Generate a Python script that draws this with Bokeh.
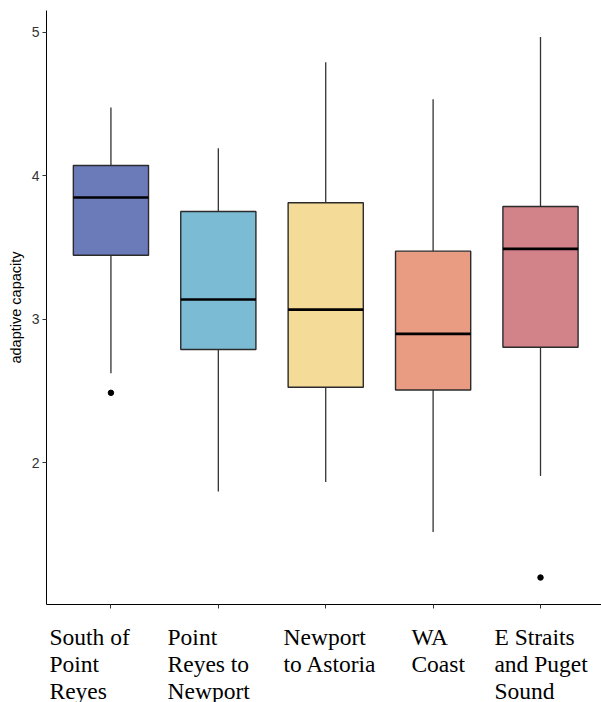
from bokeh.plotting import figure
from bokeh.layouts import column
from bokeh.models import Range1d, FixedTicker, ColumnDataSource
from bokeh.core.properties import value
from bokeh.embed import file_html
from bokeh.resources import INLINE

# Adaptive capacity by region: box-plot summary statistics
region_lines = [
    ["South of", "Point", "Reyes"],
    ["Point", "Reyes to", "Newport"],
    ["Newport", "to Astoria"],
    ["WA", "Coast"],
    ["E Straits", "and Puget", "Sound"],
]
positions = [1, 2, 3, 4, 5]
whisker_low = [2.624, 1.800, 1.866, 1.518, 1.908]
q1 = [3.446, 2.789, 2.526, 2.507, 2.805]
median = [3.848, 3.137, 3.067, 2.898, 3.490]
q3 = [4.071, 3.750, 3.811, 3.474, 3.785]
whisker_high = [4.475, 4.192, 4.791, 4.533, 4.967]
outlier_group = [1, 5]
outlier_value = [2.487, 1.200]
fill_colors = ["#6B7BBA", "#7BBBD4", "#F4DB98", "#E99C82", "#D2838A"]
y_ticks = [2, 3, 4, 5]

half = 0.35
src = ColumnDataSource(dict(
    x=positions,
    left=[p - half for p in positions],
    right=[p + half for p in positions],
    lo=whisker_low, q1=q1, med=median, q3=q3, hi=whisker_high,
    color=fill_colors,
))

p = figure(width=601, height=616, output_backend="svg", toolbar_location=None,
           x_range=Range1d(0.4, 5.568), y_range=Range1d(1.012, 5.151),
           min_border_left=46, min_border_right=0, min_border_top=10,
           min_border_bottom=12)
p.outline_line_color = None
p.xgrid.visible = False
p.ygrid.visible = False
p.background_fill_color = "white"
p.border_fill_color = "white"

# whiskers
p.segment(x0="x", y0="q3", x1="x", y1="hi", source=src, line_color="#333333", line_width=1.3)
p.segment(x0="x", y0="lo", x1="x", y1="q1", source=src, line_color="#333333", line_width=1.3)
# boxes
p.quad(left="left", right="right", bottom="q1", top="q3", source=src,
       fill_color="color", line_color="#2b2b2b", line_width=1.4)
# medians
p.segment(x0="left", y0="med", x1="right", y1="med", source=src,
          line_color="black", line_width=2.6)
# outliers
p.scatter(outlier_group, outlier_value, size=5.5, color="black")

# y axis
ya = p.yaxis[0]
ya.ticker = FixedTicker(ticks=y_ticks)
ya.minor_tick_line_color = None
ya.major_tick_in = 0
ya.major_tick_out = 4
ya.major_tick_line_color = "#333333"
ya.axis_line_color = "black"
ya.axis_line_width = 1
ya.major_label_text_font = "Liberation Sans"
ya.major_label_text_font_size = "14px"
ya.major_label_text_color = "#333333"
ya.major_label_standoff = 3
ya.axis_label = "adaptive capacity"
ya.axis_label_text_font = "Liberation Sans"
ya.axis_label_text_font_size = "14.5px"
ya.axis_label_text_font_style = "normal"
ya.axis_label_text_color = "black"
ya.axis_label_standoff = 5

# x axis: tick marks only at the region positions (names drawn in the strip below)
xa = p.xaxis[0]
xa.ticker = FixedTicker(ticks=positions)
xa.minor_tick_line_color = None
xa.major_tick_in = 0
xa.major_tick_out = 4
xa.major_tick_line_color = "#333333"
xa.axis_line_color = "black"
xa.axis_line_width = 1
xa.major_label_overrides = {pos: "" for pos in positions}
xa.major_label_standoff = 0

# strip underneath with the left-aligned, multi-line region names
label_left = [0.428, 1.527, 2.607, 3.798, 4.571]
line_baseline = [20, 47, 74]
names = dict(x=[], y=[], text=[])
for lx, lines in zip(label_left, region_lines):
    for ly, txt in zip(line_baseline, lines):
        names["x"].append(lx)
        names["y"].append(ly)
        names["text"].append(txt)

strip = figure(width=601, height=86, output_backend="svg", toolbar_location=None,
               x_range=p.x_range, y_range=Range1d(86, 0),
               x_axis_location=None, y_axis_location=None,
               min_border_left=46, min_border_right=0, min_border_top=0,
               min_border_bottom=0)
strip.outline_line_color = None
strip.xgrid.visible = False
strip.ygrid.visible = False
strip.text(x="x", y="y", text="text", source=ColumnDataSource(names),
           text_font=value("Liberation Serif"), text_font_size="23.5px",
           text_color="black", text_align="left", text_baseline="alphabetic")

layout = column(p, strip, spacing=0)
open("out.html", "w").write(file_html(layout, INLINE))
